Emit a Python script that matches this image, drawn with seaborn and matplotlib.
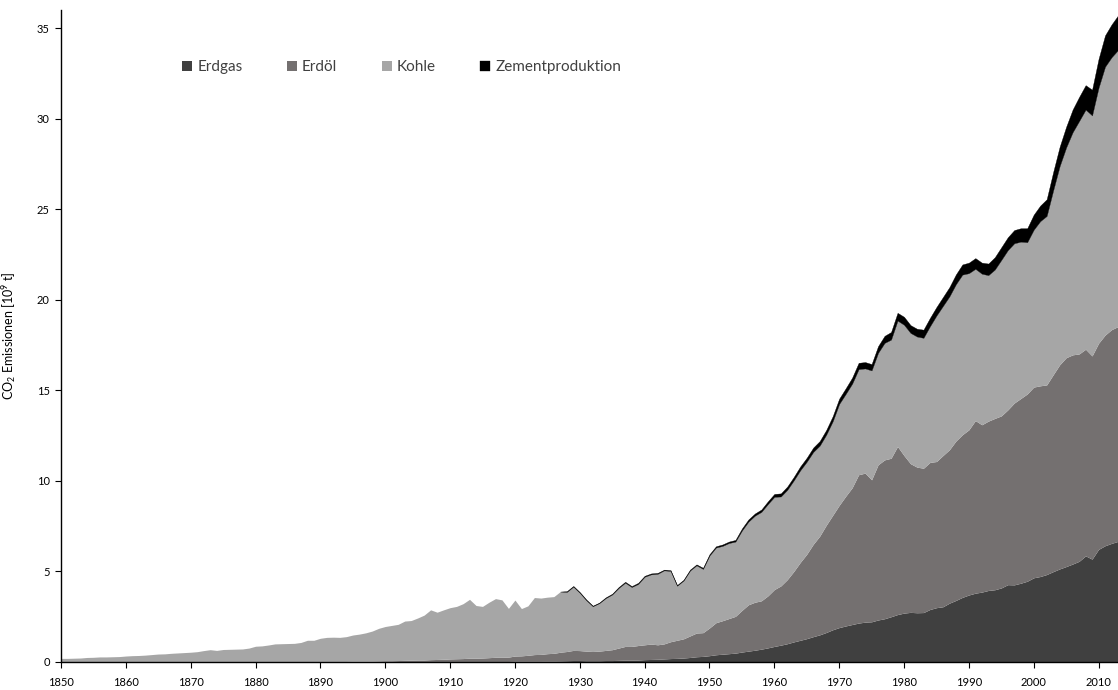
import numpy as np
import pandas as pd
import matplotlib
matplotlib.use("Agg")
import matplotlib.pyplot as plt
import seaborn as sns

# Global CO2 emissions by source, 10^9 t CO2 per year, 1850-2013
years = list(range(1850, 2014))

erdgas = [
    0, 0, 0, 0, 0, 0, 0, 0, 0, 0,
    0, 0, 0, 0, 0, 0, 0, 0, 0, 0,
    0, 0, 0, 0, 0, 0, 0, 0, 0, 0,
    0, 0, 0, 0, 0, 0, 0, 0, 0, 0,
    0.01, 0.01, 0.01, 0.01, 0.01, 0.01, 0.01, 0.01, 0.01, 0.01,
    0.01, 0.01, 0.01, 0.01, 0.01, 0.02, 0.02, 0.02, 0.02, 0.02,
    0.03, 0.03, 0.03, 0.03, 0.03, 0.03, 0.03, 0.03, 0.03, 0.03,
    0.04, 0.04, 0.04, 0.04, 0.04, 0.05, 0.05, 0.06, 0.07, 0.08,
    0.08, 0.07, 0.07, 0.07, 0.08, 0.08, 0.09, 0.10, 0.10, 0.11,
    0.13, 0.14, 0.15, 0.17, 0.19, 0.20, 0.22, 0.25, 0.29, 0.31,
    0.35, 0.40, 0.43, 0.46, 0.49, 0.55, 0.60, 0.65, 0.71, 0.78,
    0.86, 0.93, 1.01, 1.11, 1.20, 1.29, 1.40, 1.50, 1.63, 1.78,
    1.90, 1.99, 2.07, 2.15, 2.20, 2.22, 2.32, 2.39, 2.50, 2.62,
    2.70, 2.74, 2.72, 2.73, 2.90, 3.00, 3.05, 3.25, 3.40, 3.57,
    3.70, 3.80, 3.86, 3.95, 3.99, 4.09, 4.27, 4.26, 4.35, 4.46,
    4.65, 4.72, 4.83, 4.99, 5.14, 5.27, 5.41, 5.56, 5.86, 5.68,
    6.22, 6.42, 6.55, 6.66,
]

erdoel = [
    0, 0, 0, 0, 0, 0, 0, 0, 0, 0,
    0, 0, 0, 0, 0, 0, 0, 0, 0, 0,
    0, 0, 0, 0, 0, 0, 0.01, 0.01, 0.01, 0.01,
    0.01, 0.01, 0.01, 0.01, 0.01, 0.01, 0.01, 0.01, 0.02, 0.02,
    0.02, 0.02, 0.02, 0.02, 0.02, 0.03, 0.03, 0.03, 0.04, 0.05,
    0.06, 0.06, 0.07, 0.08, 0.09, 0.09, 0.09, 0.11, 0.12, 0.13,
    0.14, 0.15, 0.16, 0.18, 0.18, 0.19, 0.21, 0.23, 0.23, 0.24,
    0.29, 0.30, 0.33, 0.37, 0.38, 0.41, 0.43, 0.48, 0.51, 0.56,
    0.55, 0.53, 0.51, 0.53, 0.56, 0.60, 0.68, 0.76, 0.76, 0.80,
    0.82, 0.85, 0.80, 0.83, 0.93, 1.00, 1.06, 1.19, 1.31, 1.31,
    1.53, 1.77, 1.85, 1.94, 2.03, 2.30, 2.56, 2.65, 2.67, 2.87,
    3.14, 3.27, 3.54, 3.89, 4.30, 4.66, 5.10, 5.45, 5.92, 6.32,
    6.75, 7.16, 7.55, 8.19, 8.23, 7.84, 8.57, 8.77, 8.75, 9.28,
    8.70, 8.21, 8.04, 7.97, 8.12, 8.07, 8.35, 8.47, 8.80, 8.98,
    9.12, 9.53, 9.24, 9.35, 9.46, 9.50, 9.65, 10.04, 10.20, 10.34,
    10.53, 10.53, 10.47, 10.87, 11.27, 11.53, 11.55, 11.45, 11.41, 11.22,
    11.38, 11.63, 11.80, 11.86,
]

kohle = [
    0.20, 0.20, 0.21, 0.22, 0.25, 0.26, 0.28, 0.28, 0.29, 0.30,
    0.33, 0.35, 0.36, 0.38, 0.41, 0.44, 0.45, 0.48, 0.50, 0.52,
    0.54, 0.57, 0.63, 0.68, 0.64, 0.69, 0.69, 0.70, 0.71, 0.76,
    0.86, 0.88, 0.93, 0.99, 1.00, 1.01, 1.02, 1.07, 1.18, 1.18,
    1.28, 1.33, 1.34, 1.33, 1.37, 1.45, 1.50, 1.57, 1.66, 1.80,
    1.89, 1.95, 2.00, 2.17, 2.19, 2.32, 2.48, 2.75, 2.61, 2.73,
    2.83, 2.89, 3.03, 3.25, 2.91, 2.85, 3.06, 3.24, 3.17, 2.69,
    3.09, 2.61, 2.73, 3.15, 3.11, 3.12, 3.13, 3.35, 3.29, 3.52,
    3.19, 2.81, 2.50, 2.65, 2.89, 3.05, 3.32, 3.52, 3.28, 3.40,
    3.76, 3.85, 3.92, 4.06, 3.91, 3.01, 3.22, 3.61, 3.74, 3.52,
    4.00, 4.15, 4.13, 4.17, 4.13, 4.41, 4.59, 4.78, 4.91, 5.07,
    5.12, 4.94, 4.96, 5.03, 5.09, 5.11, 5.10, 5.00, 5.00, 5.19,
    5.60, 5.65, 5.75, 5.83, 5.78, 6.04, 6.18, 6.46, 6.55, 6.95,
    7.22, 7.22, 7.21, 7.20, 7.52, 8.06, 8.26, 8.47, 8.66, 8.84,
    8.65, 8.38, 8.34, 8.06, 8.22, 8.61, 8.82, 8.82, 8.66, 8.38,
    8.69, 9.09, 9.33, 10.18, 10.97, 11.61, 12.29, 12.86, 13.23, 13.28,
    14.11, 14.82, 15.04, 15.27,
]

zement = [
    0, 0, 0, 0, 0, 0, 0, 0, 0, 0,
    0, 0, 0, 0, 0, 0, 0, 0, 0, 0,
    0, 0, 0, 0, 0, 0, 0, 0, 0, 0,
    0, 0, 0, 0, 0, 0, 0, 0, 0, 0,
    0, 0, 0, 0, 0, 0, 0, 0, 0, 0,
    0, 0, 0, 0, 0, 0, 0, 0, 0, 0,
    0, 0, 0, 0, 0, 0, 0, 0, 0, 0,
    0, 0, 0, 0, 0, 0, 0, 0, 0.04, 0.04,
    0.04, 0.04, 0.03, 0.03, 0.04, 0.04, 0.05, 0.05, 0.05, 0.06,
    0.05, 0.05, 0.05, 0.04, 0.04, 0.04, 0.04, 0.05, 0.05, 0.06,
    0.07, 0.07, 0.08, 0.08, 0.09, 0.11, 0.12, 0.12, 0.13, 0.15,
    0.16, 0.17, 0.18, 0.19, 0.21, 0.22, 0.24, 0.25, 0.26, 0.28,
    0.29, 0.31, 0.33, 0.35, 0.35, 0.35, 0.37, 0.39, 0.42, 0.43,
    0.44, 0.43, 0.43, 0.45, 0.46, 0.47, 0.49, 0.51, 0.54, 0.56,
    0.58, 0.59, 0.61, 0.64, 0.68, 0.70, 0.71, 0.73, 0.74, 0.77,
    0.83, 0.86, 0.92, 1.01, 1.07, 1.14, 1.25, 1.33, 1.35, 1.42,
    1.59, 1.73, 1.81, 1.91,
]

labels = ["Erdgas", "Erdöl", "Kohle", "Zementproduktion"]
colors = ["#404040", "#747070", "#a6a6a6", "#000000"]
x_ticks = list(range(1850, 2011, 10))
y_ticks = [0, 5, 10, 15, 20, 25, 30, 35]

df = pd.DataFrame({"Jahr": years, labels[0]: erdgas, labels[1]: erdoel,
                   labels[2]: kohle, labels[3]: zement})

sns.set_theme(style="ticks")
plt.rcParams["font.family"] = ["Lato", "DejaVu Sans"]
plt.rcParams["mathtext.fontset"] = "custom"
plt.rcParams["mathtext.rm"] = "Lato"
plt.rcParams["mathtext.it"] = "Lato:italic"

fig = plt.figure(figsize=(11.18, 6.9), dpi=100)
ax = fig.add_axes([61 / 1118, 1 - 662 / 690, 1 - 61 / 1118, (662 - 10) / 690])

# three fuel layers stacked from the baseline
fuel_cols = labels[:3]
polys = ax.stackplot(df["Jahr"], *[df[c] for c in fuel_cols],
                     colors=colors[:3], linewidth=0)

# cement on top of the fuels, drawn only where it exists
fuel_top = df[fuel_cols].sum(axis=1).to_numpy()
total = fuel_top + df[labels[3]].to_numpy()
mask = df["Jahr"].to_numpy() >= 1927
cem = ax.fill_between(df["Jahr"].to_numpy()[mask], fuel_top[mask], total[mask],
                      facecolor=colors[3], edgecolor=colors[3], linewidth=0.25)

ax.set_xlim(1850, 2013)
ax.set_ylim(0, 36)
ax.set_xticks(x_ticks)
ax.set_yticks(y_ticks)
ax.tick_params(axis="both", direction="out", length=4, width=0.8,
               labelsize=8, colors="black", pad=4)
ax.tick_params(axis="x", pad=7)
sns.despine(ax=ax)
for s in ("left", "bottom"):
    ax.spines[s].set_color("black")
    ax.spines[s].set_linewidth(1.0)
ax.grid(False)
ax.set_facecolor("white")

ax.set_ylabel("CO$_2$ Emissionen [10$^9$ t]", fontsize=9, color="black")
ax.yaxis.set_label_coords((18 - 61) / 1057, 0.5)

handles = list(polys) + [cem]
leg = ax.legend(handles, labels, loc="center left",
                bbox_to_anchor=((182 - 61) / 1057, (662 - 67) / 652),
                ncol=4, frameon=False, handlelength=0.65, handleheight=0.65,
                handletextpad=0.35, columnspacing=2.9, borderpad=0,
                borderaxespad=0, fontsize=11)
for t in leg.get_texts():
    t.set_color("#404040")

fig.savefig("out.png", dpi=100, facecolor="white")
